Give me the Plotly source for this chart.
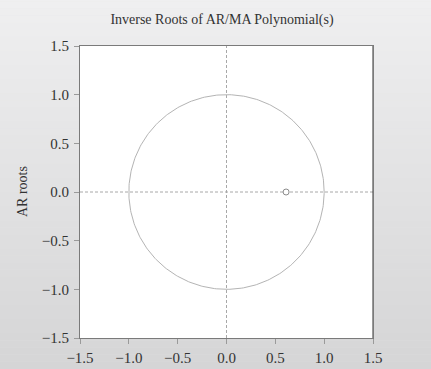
import numpy as np
import plotly.graph_objects as go

# Data
root_re = [0.61]
root_im = [0.0]
unit_radius = 1.0
tick_vals = [-1.5, -1.0, -0.5, 0.0, 0.5, 1.0, 1.5]
tick_text = ["\u22121.5", "\u22121.0", "\u22120.5", "0.0", "0.5", "1.0", "1.5"]
title_text = "Inverse Roots of AR/MA Polynomial(s)"
y_title = "AR roots"

W, H = 431, 369
ML, MR, MT, MB = 80, 58, 46, 31
PW = W - ML - MR

fig = go.Figure()

theta = np.linspace(0, 2 * np.pi, 361)
fig.add_trace(go.Scatter(x=unit_radius * np.cos(theta), y=unit_radius * np.sin(theta),
                         mode="lines", line=dict(color="#b4b4b4", width=1),
                         hoverinfo="skip", showlegend=False))
fig.add_trace(go.Scatter(x=root_re, y=root_im, mode="markers",
                         marker=dict(symbol="circle", size=6, color="white",
                                     line=dict(width=1, color="#8a8a8a")),
                         showlegend=False))

shapes = []
# gradient background stripes
n = 60
top = np.array([0xf0, 0xf0, 0xf1])
bot = np.array([0xd3, 0xd3, 0xd4])
for i in range(n):
    t = i / (n - 1)
    c = (top * (1 - t) + bot * t).astype(int)
    shapes.append(dict(type="rect", xref="paper", yref="paper",
                       x0=-0.3, x1=1.3,
                       y0=1.2 - (i + 1) * 1.45 / n, y1=1.2 - i * 1.45 / n + 0.001,
                       line=dict(width=0), fillcolor="rgb(%d,%d,%d)" % tuple(c),
                       layer="below"))
shapes.append(dict(type="rect", xref="x", yref="y", x0=-1.5, x1=1.5, y0=-1.5, y1=1.5,
                   line=dict(width=0), fillcolor="white", layer="below"))
shapes.append(dict(type="line", xref="x", yref="y", x0=0, x1=0, y0=-1.5, y1=1.5,
                   line=dict(color="#a8a8a8", width=1, dash="3px,2px"), layer="below"))
shapes.append(dict(type="line", xref="x", yref="y", x0=-1.5, x1=1.5, y0=0, y1=0,
                   line=dict(color="#a8a8a8", width=1, dash="3px,2px"), layer="below"))
# darker right edge of frame
shapes.append(dict(type="line", xref="x", yref="y", x0=1.5, x1=1.5, y0=-1.5, y1=1.5,
                   line=dict(color="#333333", width=1), layer="above"))

axis_common = dict(range=[-1.5, 1.5], tickvals=tick_vals, ticktext=tick_text,
                   showgrid=False, zeroline=False, showline=True, mirror=True,
                   linecolor="#7a7a7a", linewidth=1, ticks="outside", ticklen=5,
                   tickcolor="#9a9a9a", automargin=False,
                   tickfont=dict(family="Liberation Serif", size=15, color="#333333"))

fig.update_layout(
    width=W, height=H,
    margin=dict(l=ML, r=MR, t=MT, b=MB, autoexpand=False),
    paper_bgcolor="#e4e4e4", plot_bgcolor="white",
    shapes=shapes,
    title=dict(text=title_text, x=222 / W, xanchor="center",
               y=1 - 19 / H, yanchor="middle",
               font=dict(family="Liberation Serif", size=14, color="#333333")),
    xaxis=dict(**axis_common, ticklabelstandoff=1),
    yaxis=dict(**axis_common, ticklabelstandoff=2),
    annotations=[dict(text=y_title, xref="paper", yref="paper",
                      x=(22 - ML) / PW, y=0.5, xanchor="center", yanchor="middle",
                      textangle=-90, showarrow=False,
                      font=dict(family="Liberation Serif", size=14, color="#333333"))],
    showlegend=False,
)

fig.write_html("out.html")
